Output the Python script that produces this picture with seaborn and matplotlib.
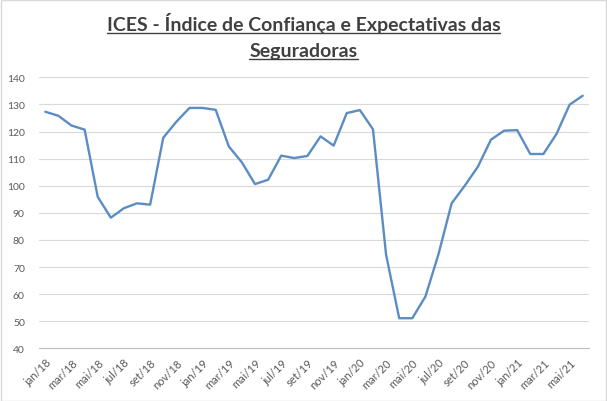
import numpy as np
import pandas as pd
import matplotlib.pyplot as plt
import seaborn as sns
from matplotlib.lines import Line2D
from matplotlib.patches import Rectangle

months = ['jan', 'fev', 'mar', 'abr', 'mai', 'jun', 'jul', 'ago', 'set', 'out', 'nov', 'dez']
labels = [f'{m}/{y}' for y in ['18', '19', '20', '21'] for m in months][:42]
ices = [127.3, 125.8, 122.2, 120.7, 95.9, 88.2, 91.7, 93.5, 93.0, 117.7, 123.6, 128.7,
        128.7, 128.0, 114.5, 108.6, 100.6, 102.2, 111.1, 110.2, 111.0, 118.2, 114.8, 126.8,
        127.9, 120.8, 74.5, 51.1, 51.1, 59.1, 74.8, 93.5, 100.0, 107.0, 117.0, 120.3,
        120.5, 111.7, 111.7, 119.1, 129.9, 133.2]

df = pd.DataFrame({'mes': labels, 'ices': ices})
df['pos'] = np.arange(len(df))

sns.set_style('white')
plt.rcParams['font.family'] = ['Lato', 'DejaVu Sans']

fig = plt.figure(figsize=(6.07, 4.02), dpi=100)
ax = fig.add_axes([0.0638, 0.1311, 0.907, 0.6741])

sns.lineplot(data=df, x='pos', y='ices', ax=ax, color='#5B8DC4', linewidth=1.7)

ax.set_ylim(40, 140)
ax.set_yticks(range(40, 141, 10))
ax.set_xlim(-0.5, len(df) - 0.5)
ax.set_xticks(df['pos'][::2])
ax.set_xticklabels(df['mes'][::2], rotation=45, ha='right', rotation_mode='anchor')
ax.set_xticks(np.arange(-0.5, len(df), 2), minor=True)
ax.tick_params(axis='x', which='major', length=0, pad=6, labelsize=8, labelcolor='#595959')
ax.tick_params(axis='x', which='minor', length=4, color='#BFBFBF', width=0.8, direction='out')
ax.tick_params(axis='y', length=0, pad=10, labelsize=7.5, labelcolor='#595959')
ax.grid(axis='y', color='#D9D9D9', linewidth=0.8)
ax.set_xlabel('')
ax.set_ylabel('')
for s in ['left', 'right', 'top']:
    ax.spines[s].set_visible(False)
ax.spines['bottom'].set_color('#BFBFBF')
ax.spines['bottom'].set_linewidth(0.8)

# title in two lines, underlined like the excel chart
t1 = fig.text(0.5, 1 - 31 / 402, 'ICES - Índice de Confiança e Expectativas das',
              ha='center', va='baseline', fontsize=14, fontweight='bold', color='#404040')
t2 = fig.text(0.5, 1 - 57 / 402, 'Seguradoras',
              ha='center', va='baseline', fontsize=14, fontweight='bold', color='#404040')
fig.canvas.draw()
r = fig.canvas.get_renderer()
for t, yu in [(t1, 34), (t2, 60)]:
    bb = t.get_window_extent(r)
    y = 1 - yu / 402
    fig.add_artist(Line2D([bb.x0 / 607, bb.x1 / 607], [y, y], color='#404040', linewidth=1.0))

fig.add_artist(Rectangle((0.001, 0.001), 0.997, 0.997, fill=False, edgecolor='#D9D9D9', linewidth=1.0))

fig.savefig('out.png', dpi=100)
